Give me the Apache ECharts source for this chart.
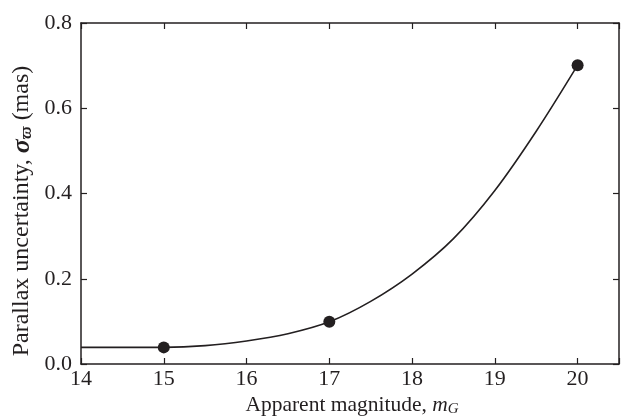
<!DOCTYPE html>
<html>
<head>
<meta charset="utf-8">
<script src="https://cdn.jsdelivr.net/npm/echarts@6/dist/echarts.min.js"></script>
<style>
html,body{margin:0;padding:0;background:#fff;}
#chart{width:622px;height:416px;}
</style>
</head>
<body>
<div id="chart"></div>
<script>
// Curve
var curveX = [14, 14.5, 15, 15.5, 16, 16.5, 17, 17.5, 18, 18.5, 19, 19.5, 20];
var curveY = [0.039, 0.039, 0.039, 0.043, 0.054, 0.071, 0.099, 0.147, 0.211, 0.294, 0.407, 0.546, 0.701];
// Marked points
var pointX = [15, 17, 20];
var pointY = [0.039, 0.099, 0.701];
// Axis ranges / ticks
var xMin = 14, xMax = 20.5, xStep = 1;
var yMin = 0, yMax = 0.8, yStep = 0.2;

var FONT = '"Liberation Serif", "DejaVu Serif", serif';
var INK = '#231f20';

var chart = echarts.init(document.getElementById('chart'), null, {renderer: 'canvas'});

function pairs(xs, ys) { return xs.map(function (x, i) { return [x, ys[i]]; }); }

var axisCommon = {
  axisLine: {show: true, onZero: false, lineStyle: {color: INK, width: 1.5}},
  axisTick: {show: true, inside: true, length: 6, lineStyle: {color: INK, width: 1.2}},
  splitLine: {show: false}
};

var option = {
  animation: false,
  backgroundColor: '#fff',
  grid: {left: 81, right: 3, top: 23, bottom: 52, containLabel: false},
  xAxis: [
    Object.assign({
      type: 'value', min: xMin, max: xMax, interval: xStep, position: 'bottom',
      axisLabel: {show: true, color: INK, fontFamily: FONT, fontSize: 22, margin: 4,
        formatter: function (v) { return Number.isInteger(v) ? String(v) : ''; }}
    }, axisCommon),
    Object.assign({
      type: 'value', min: xMin, max: xMax, interval: xStep, position: 'top',
      axisLabel: {show: false}
    }, axisCommon)
  ],
  yAxis: [
    Object.assign({
      type: 'value', min: yMin, max: yMax, interval: yStep, position: 'left',
      axisLabel: {show: true, color: INK, fontFamily: FONT, fontSize: 22, margin: 9,
        formatter: function (v) { return v.toFixed(1); }}
    }, axisCommon),
    Object.assign({
      type: 'value', min: yMin, max: yMax, interval: yStep, position: 'right',
      axisLabel: {show: false}
    }, axisCommon)
  ],
  series: [
    {
      type: 'line', data: pairs(curveX, curveY), smooth: 0.35,
      showSymbol: false, symbol: 'none',
      lineStyle: {color: INK, width: 1.6}, z: 2
    },
    {
      type: 'scatter', data: pairs(pointX, pointY), symbol: 'circle', symbolSize: 12,
      itemStyle: {color: INK, opacity: 1}, z: 3
    }
  ],
  graphic: [
    {
      type: 'text', x: 352, y: 405,
      style: {
        text: 'Apparent magnitude, {it|m}{sub|G}',
        font: '21.5px ' + FONT, fill: INK, align: 'center', verticalAlign: 'middle',
        rich: {
          it: {fontFamily: FONT, fontSize: 21.5, fontStyle: 'italic', fill: INK, lineHeight: 24},
          sub: {fontFamily: FONT, fontSize: 15, fontStyle: 'italic', fill: INK, lineHeight: 24, padding: [10, 0, 0, 0], verticalAlign: 'bottom'}
        }
      }
    },
    {
      type: 'text', x: 22, y: 211, rotation: Math.PI / 2,
      style: {
        text: 'Parallax uncertainty, {sg|σ}{sub|ϖ} (mas)',
        font: '24px ' + FONT, fill: INK, align: 'center', verticalAlign: 'middle',
        rich: {
          sg: {fontFamily: FONT, fontSize: 26, fontStyle: 'italic', fontWeight: 'bold', fill: INK, lineHeight: 26},
          sub: {fontFamily: FONT, fontSize: 17, fontStyle: 'italic', fontWeight: 'bold', fill: INK, lineHeight: 26, padding: [11, 0, 0, 0], verticalAlign: 'bottom'}
        }
      }
    }
  ]
};
chart.setOption(option);
</script>
</body>
</html>
